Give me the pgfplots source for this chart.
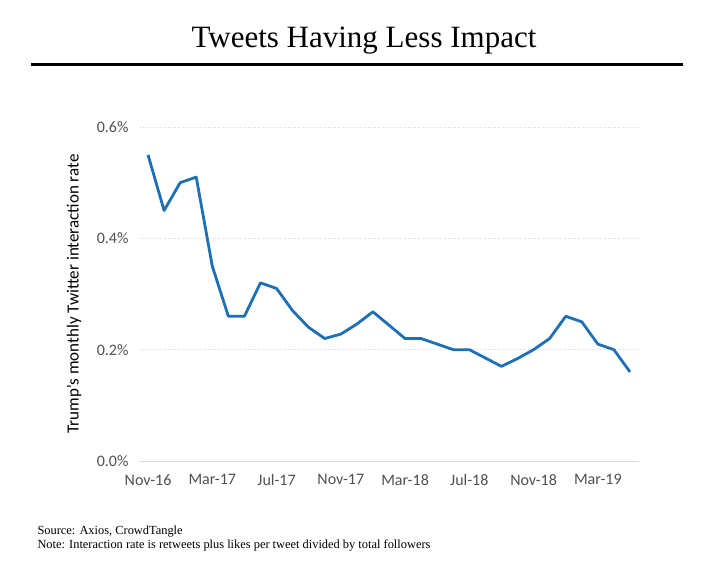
\documentclass[border=0pt]{standalone}
\usepackage{fontspec}
\setmainfont{Liberation Serif}
\newfontfamily\calibri{Carlito}
\usepackage{pgfplots}
\pgfplotsset{compat=1.18}
\definecolor{lineblue}{RGB}{30,112,182}
\definecolor{tickgray}{RGB}{80,80,80}
\definecolor{gridgray}{RGB}{217,217,217}
\begin{document}
\begin{tikzpicture}[x=1pt,y=1pt]
\path (0,0) rectangle (722,568);
\node[font=\fontsize{31}{34}\selectfont] at (364,527) {Tweets Having Less Impact};
\draw[line width=3pt] (31,503) -- (683,503);
\begin{axis}[
  at={(140pt,107pt)}, anchor=south west, scale only axis,
  width=498pt, height=334pt,
  xmin=-0.5, xmax=30.5, ymin=0, ymax=0.6,
  axis x line*=bottom, axis y line*=left,
  y axis line style={draw=none},
  x axis line style={-, draw=gridgray, line width=0.8pt},
  xtick={0,4,8,12,16,20,24,28},
  xticklabels={Nov-16,Mar-17,Jul-17,Nov-17,Mar-18,Jul-18,Nov-18,Mar-19},
  ytick={0,0.2,0.4,0.6},
  yticklabels={0.0\%,0.2\%,0.4\%,0.6\%},
  ymajorgrids,
  grid style={gridgray, line width=0.8pt, dash pattern=on 1pt off 1.5pt},
  major tick length=0pt,
  tick style={draw=none},
  ticklabel style={font=\calibri\fontsize{16}{18}\selectfont, text=tickgray},
  xticklabel style={yshift=-10pt},
  yticklabel style={xshift=-8pt},
  ylabel={Trump's monthly Twitter interaction rate},
  ylabel style={at={(axis description cs:-0.1325,0.5)}, anchor=center, font=\calibri\fontsize{17}{19}\selectfont},
  clip=false,
]
\addplot[lineblue, line width=2.8pt, line join=round, mark=none] coordinates {
(0,0.55) (1,0.45) (2,0.50) (3,0.51) (4,0.35) (5,0.26) (6,0.26) (7,0.32)
(8,0.31) (9,0.27) (10,0.24) (11,0.22) (12,0.228) (13,0.246) (14,0.268)
(15,0.244) (16,0.22) (17,0.22) (18,0.21) (19,0.20) (20,0.20) (21,0.185)
(22,0.17) (23,0.184) (24,0.20) (25,0.22) (26,0.26) (27,0.25) (28,0.21)
(29,0.20) (30,0.16)
};
\end{axis}
\node[anchor=west, font=\fontsize{12.4}{14}\selectfont] at (34,36) {Source: Axios, CrowdTangle};
\node[anchor=west, font=\fontsize{12.4}{14}\selectfont] at (34,23) {Note: Interaction rate is retweets plus likes per tweet divided by total followers};
\end{tikzpicture}
\end{document}
